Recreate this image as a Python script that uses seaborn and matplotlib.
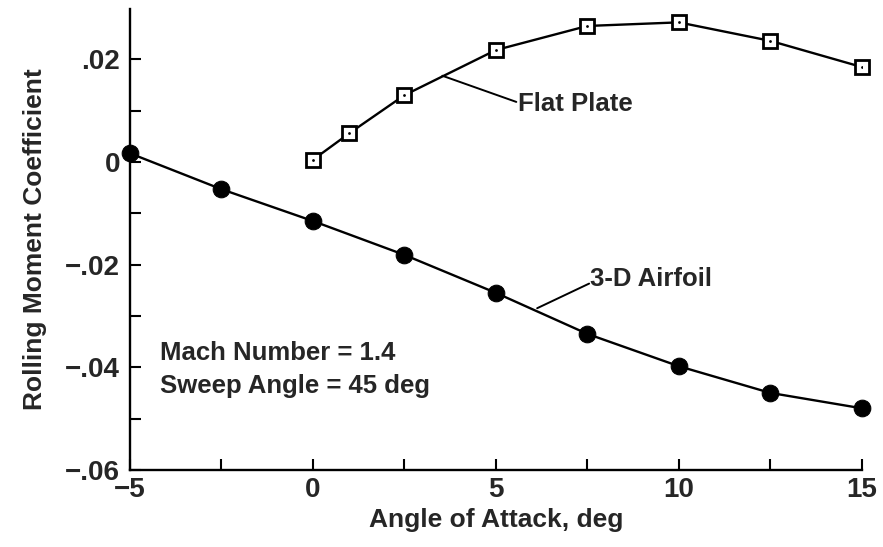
# Rolling moment coefficient vs angle of attack (M = 1.4, 45 deg sweep)
import numpy as np
import pandas as pd
import seaborn as sns
import matplotlib
matplotlib.use('Agg')
import matplotlib.pyplot as plt

# --- data ---
airfoil_alpha = [-5, -2.5, 0, 2.5, 5, 7.5, 10, 12.5, 15]
airfoil_cl = [0.0017, -0.0053, -0.0115, -0.0181, -0.0255, -0.0335, -0.0398, -0.0450, -0.0480]

plate_alpha = [0, 1, 2.5, 5, 7.5, 10, 12.5, 15]
plate_cl = [0.0004, 0.0056, 0.0130, 0.0218, 0.0265, 0.0272, 0.0236, 0.0185]

xticks = [-5, 0, 5, 10, 15]
xtick_labels = ['\u22125', '0', '5', '10', '15']
xminor = [-2.5, 2.5, 7.5, 12.5]
yticks = [-0.06, -0.04, -0.02, 0, 0.02]
ytick_labels = ['\u2212.06', '\u2212.04', '\u2212.02', '0', '.02']
yminor = [-0.05, -0.03, -0.01, 0.01]

sns.set_style('ticks')
fam = ['Liberation Sans', 'DejaVu Sans']
plt.rcParams['font.family'] = fam
plt.rcParams['font.weight'] = 'bold'

fig = plt.figure(figsize=(8.83, 5.47), dpi=100)
ax = fig.add_axes([0.147, 0.141, 0.829, 0.8425])

airfoil = pd.DataFrame({'alpha': airfoil_alpha, 'cl': airfoil_cl})
plate = pd.DataFrame({'alpha': plate_alpha, 'cl': plate_cl})

sns.lineplot(data=airfoil, x='alpha', y='cl', ax=ax, color='black', lw=1.7,
             marker='o', markersize=12, markeredgecolor='black',
             markerfacecolor='black', clip_on=False, zorder=3)
sns.lineplot(data=plate, x='alpha', y='cl', ax=ax, color='black', lw=1.7,
             marker='s', markersize=10.5, markerfacecolor='white',
             markeredgecolor='black', markeredgewidth=2, clip_on=False, zorder=3)
# little dot in the middle of each square
sns.scatterplot(data=plate, x='alpha', y='cl', ax=ax, color='black', s=4,
                linewidth=0, zorder=4)

ax.set_xlim(-5, 15)
ax.set_ylim(-0.06, 0.0298)

ax.set_xticks(xticks)
ax.set_xticklabels(xtick_labels)
ax.set_xticks(xminor, minor=True)
ax.set_yticks(yticks)
ax.set_yticklabels(ytick_labels)
ax.set_yticks(yminor, minor=True)

ax.tick_params(axis='both', which='both', direction='in', length=8, width=1.5,
               color='black')
ax.tick_params(axis='both', which='major', labelsize=20, pad=5)
ax.tick_params(axis='y', pad=7)

for lab in ax.get_xticklabels() + ax.get_yticklabels():
    lab.set_fontweight('bold')

sns.despine(ax=ax)
for s in ['left', 'bottom']:
    ax.spines[s].set_linewidth(1.7)
    ax.spines[s].set_color('black')

ax.set_xlabel('Angle of Attack, deg', fontsize=19, fontweight='bold', labelpad=4)
ax.set_ylabel('Rolling Moment Coefficient', fontsize=19, fontweight='bold', labelpad=13)

# leader lines + labels
ax.plot([3.54, 5.56], [0.0168, 0.0117], color='black', lw=1.4)
ax.text(5.62, 0.0113, 'Flat Plate', fontsize=18.5, fontweight='bold', va='center', ha='left')

ax.plot([6.13, 7.55], [-0.0285, -0.0237], color='black', lw=1.4)
ax.text(7.58, -0.0229, '3-D Airfoil', fontsize=18.5, fontweight='bold', va='center', ha='left')

ax.text(-4.17, -0.0373, 'Mach Number = 1.4', fontsize=18.5, fontweight='bold', va='center', ha='left')
ax.text(-4.17, -0.0437, 'Sweep Angle = 45 deg', fontsize=18.5, fontweight='bold', va='center', ha='left')

plt.savefig('out.png', dpi=100)
plt.close()
